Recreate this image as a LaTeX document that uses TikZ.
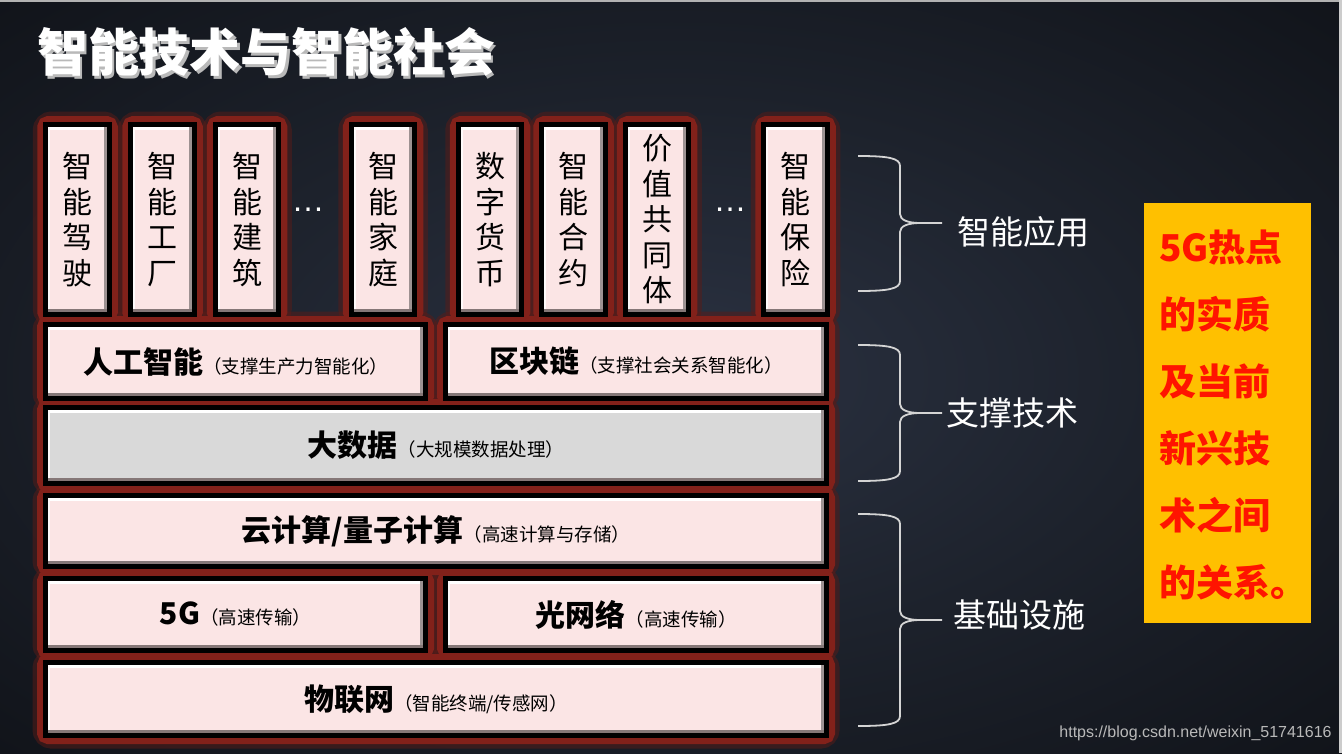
\documentclass[tikz,border=0pt]{standalone}
\usepackage{fontspec}
\newfontfamily\cjk{Noto Sans CJK SC}
\newfontfamily\latinsans{Liberation Sans}
\definecolor{boxpink}{HTML}{FBE5E5}
\definecolor{boxgray}{HTML}{D9D9D9}
\definecolor{glowin}{HTML}{82211A}
\definecolor{glowouter}{HTML}{5A1C18}
\definecolor{gold}{HTML}{FFC000}
\definecolor{notered}{HTML}{FF1400}
\definecolor{bgin}{HTML}{2B3242}
\definecolor{bgmid}{HTML}{1D222C}
\definecolor{bgout}{HTML}{07080B}
\definecolor{bevelgray}{HTML}{857777}
\definecolor{bracegray}{HTML}{D4D4D4}
\pgfdeclareradialshading{bgshade}{\pgfpoint{0bp}{0bp}}{color(0bp)=(bgin); color(18bp)=(bgmid); color(50bp)=(bgout)}
\pgfdeclarelayer{bg}
\pgfdeclarelayer{glow}
\pgfsetlayers{bg,glow,main}
\newcommand\mainlab[1]{{\cjk\bfseries\fontsize{30}{30}\selectfont #1}}
\newcommand\sublab[1]{{\cjk\fontsize{18.5}{18.5}\selectfont #1}}
\newcommand\rbr[3]{%
 \draw[bracestyle] (858,#1) .. controls (888,#1) and (900,{#1+2}) .. (900,{#1+10}) -- (900,{#2-9}) .. controls (900,{#2-3}) and (908,#2) .. (920,#2) -- (942,#2)
 (920,#2) .. controls (908,#2) and (900,{#2+3}) .. (900,{#2+9}) -- (900,{#3-10}) .. controls (900,{#3-2}) and (888,#3) .. (858,#3);}
\begin{document}
\begin{tikzpicture}[x=1pt,y=-1pt,
  tile/.style={rectangle, draw=black, line width=5pt, fill=boxpink, inner sep=0pt, outer sep=0pt,
    path picture={
      \fill[white] ([shift={(2.5,2.5)}]path picture bounding box.north west) rectangle ([shift={(-2.5,5.5)}]path picture bounding box.north east);
      \fill[white!80!boxpink] ([shift={(2.5,2.5)}]path picture bounding box.north west) rectangle ([shift={(4.5,-2.5)}]path picture bounding box.south west);
      \fill[bevelgray!80!white] ([shift={(-5.5,2.5)}]path picture bounding box.north east) rectangle ([shift={(-2.5,-2.5)}]path picture bounding box.south east);
      \fill[bevelgray] ([shift={(2.5,-5.5)}]path picture bounding box.south west) rectangle ([shift={(-2.5,-2.5)}]path picture bounding box.south east);
    }},
  vtile/.style={tile, minimum width=63.5pt, minimum height=190pt, align=center,
    font=\cjk\fontsize{30}{35.5}\selectfont},
  glowa/.style={draw=glowouter, line width=26pt, opacity=0.5, rounded corners=6pt},
  glowb/.style={draw=glowin, line width=17pt, rounded corners=3pt},
  side/.style={text=white, font=\cjk\fontsize{33}{33}\selectfont},
  bracestyle/.style={draw=bracegray, line width=1.8pt},
  ell/.style={text=white, font=\latinsans\fontsize{33}{33}\selectfont}
]
\useasboundingbox (0,0) rectangle (1342,753);
\begin{pgfonlayer}{bg}
\shade[shading=bgshade] (0,0) rectangle (1342,753);
\fill[gray!60] (0,0) rectangle (1342,1.5);
\fill[gray!40] (1338.5,0) rectangle (1342,753);
\end{pgfonlayer}

% title
\node[text=gray!55, font=\cjk\bfseries\fontsize{51}{51}\selectfont] (titleshadow) at (268.5,54.5) {智能技术与智能社会};
\node[text=white, font=\cjk\bfseries\fontsize{51}{51}\selectfont] (title) at (266.5,52) {智能技术与智能社会};

% application tiles
\node[vtile] (v1) at (77.5,219.5) {智\\能\\驾\\驶};
\node[vtile] (v2) at (162.5,219.5) {智\\能\\工\\厂};
\node[vtile] (v3) at (247,219.5) {智\\能\\建\\筑};
\node[ell] (e1) at (308,210) {…};
\node[vtile] (v4) at (383,219.5) {智\\能\\家\\庭};
\node[vtile] (v5) at (490,219.5) {数\\字\\货\\币};
\node[vtile] (v6) at (573.5,219.5) {智\\能\\合\\约};
\node[vtile] (v7) at (657,219.5) {价\\值\\共\\同\\体};
\node[ell] (e2) at (730,210) {…};
\node[vtile] (v8) at (795.5,219.5) {智\\能\\保\\险};

% layers
\node[tile, minimum width=380pt, minimum height=74pt] (ai) at (235.5,361.5) {\mainlab{人工智能}\sublab{（支撑生产力智能化）}};
\node[tile, minimum width=381pt, minimum height=74pt] (bc) at (636,361.5) {\mainlab{区块链}\sublab{（支撑社会关系智能化）}};
\node[tile, fill=boxgray, minimum width=781pt, minimum height=76pt] (bd) at (436,445.5) {\mainlab{大数据}\sublab{（大规模数据处理）}};
\node[tile, minimum width=781pt, minimum height=71pt] (cc) at (436,531) {\mainlab{云计算/量子计算}\sublab{（高速计算与存储）}};
\node[tile, minimum width=380pt, minimum height=72pt] (fg) at (235.5,614.5) {\mainlab{5G}\sublab{（高速传输）}};
\node[tile, minimum width=381pt, minimum height=72pt] (on) at (636,614.5) {\mainlab{光网络}\sublab{（高速传输）}};
\node[tile, minimum width=781pt, minimum height=73pt] (iot) at (436,699) {\mainlab{物联网}\sublab{（智能终端/传感网）}};

\begin{pgfonlayer}{glow}
\foreach \n in {v1,v2,v3,v4,v5,v6,v7,v8,ai,bc,bd,cc,fg,on,iot}{
  \draw[glowa] (\n.north west) rectangle (\n.south east);
}
\foreach \n in {v1,v2,v3,v4,v5,v6,v7,v8,ai,bc,bd,cc,fg,on,iot}{
  \draw[glowb] (\n.north west) rectangle (\n.south east);
}
\end{pgfonlayer}

% braces and labels
\rbr{156}{223}{291}
\rbr{345}{413}{481}
\rbr{514}{620}{726}
\node[side] (lapp) at (1023.5,232) {智能应用};
\node[side] (lsup) at (1012,413) {支撑技术};
\node[side] (lbase) at (1019,615) {基础设施};

% note box
\node[fill=gold, minimum width=167pt, minimum height=420pt, inner sep=0pt] (note) at (1227.5,413) {};
\node[anchor=west, align=left, text=notered, inner sep=0pt,
  font=\cjk\bfseries\fontsize{37}{67}\selectfont] (notetext) at ([shift={(15,2)}]note.west)
  {5G热点\\的实质\\及当前\\新兴技\\术之间\\的关系。};

% watermark
\node[text=gray!55, font=\latinsans\fontsize{16}{16}\selectfont] (wm) at (1195.5,733) {https://blog.csdn.net/weixin\_51741616};
\end{tikzpicture}
\end{document}
